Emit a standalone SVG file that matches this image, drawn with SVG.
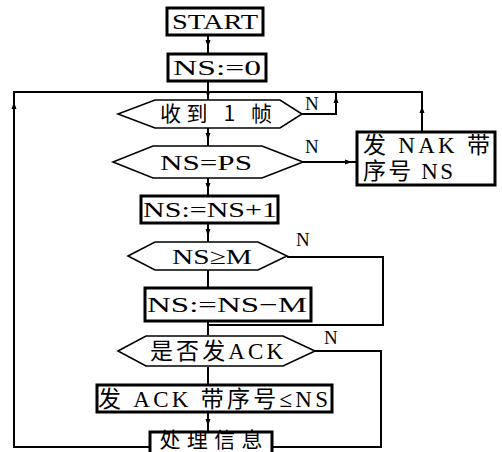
<svg xmlns="http://www.w3.org/2000/svg" width="502" height="452" viewBox="0 0 502 452">
<style>
.box{fill:#fff;stroke:#000;stroke-width:3}
.dec{fill:#fff;stroke:#000;stroke-width:1.6}
.ln{fill:none;stroke:#000;stroke-width:2}
.t{font-family:"Liberation Serif","Noto Sans CJK SC",serif;font-size:22px;fill:#000;text-anchor:middle}
.c{font-family:"Noto Sans CJK SC","Liberation Serif",serif;font-size:21px;fill:#000;text-anchor:middle}
.tl{font-family:"Liberation Serif","Noto Sans CJK SC",serif;font-size:23px;fill:#000}
.n{font-family:"Liberation Serif",serif;font-size:19px;fill:#000}
</style>
<defs>
<path id="ah" d="M-2.5,-5 L2.5,-5 L0,2 Z" fill="#000"/>
</defs>
<g id="connectors">
<path class="ln" d="M208,35 V54 M208,81 V100 M208,128 V146 M208,178 V196 M208,223 V242 M208,270 V288 M208,321 V335 M208,367 V385 M208,412 V432"/>
<path class="ln" d="M302,114 H336 V92" />
<path class="ln" stroke-width="3" d="M422,132 V92 H14 V447 H150"/>
<path class="ln" d="M303,162 H357"/>
<path class="ln" d="M287,257 H383 V325 H208"/>
<path class="ln" d="M315,351 H381 V447 H272"/>
<use href="#ah" transform="translate(208,45)"/>
<use href="#ah" transform="translate(208,96)"/>
<use href="#ah" transform="translate(208,138)"/>
<use href="#ah" transform="translate(208,188)"/>
<use href="#ah" transform="translate(208,234)"/>
<use href="#ah" transform="translate(208,424)"/>
<use href="#ah" transform="translate(336,98) rotate(180)"/>
<use href="#ah" transform="translate(422,108) rotate(180)"/>
<use href="#ah" transform="translate(14,104) rotate(180)"/>
<use href="#ah" transform="translate(350,162) rotate(-90)"/>
<text class="n" x="305" y="110">N</text>
<text class="n" x="305" y="153">N</text>
<text class="n" x="296" y="246">N</text>
<text class="n" x="324" y="344">N</text>
</g>
<g id="start">
<rect class="box" x="167" y="8" width="96" height="27"/>
<text class="t" x="215" y="29" textLength="86" lengthAdjust="spacingAndGlyphs">START</text>
</g>
<g id="init">
<rect class="box" x="168" y="54" width="98" height="27"/>
<text class="t" x="217" y="75" textLength="88" lengthAdjust="spacingAndGlyphs">NS:=0</text>
</g>
<g id="recv">
<polygon class="dec" points="118,114 155,100 280,100 302,114 280,128 155,128"/>
<text class="c" x="216" y="121" textLength="112" lengthAdjust="spacing">收到 1 帧</text>
</g>
<g id="nsps">
<polygon class="dec" points="113,162 153,146 262,146 303,162 262,178 153,178"/>
<text class="t" x="206" y="170" textLength="92" lengthAdjust="spacingAndGlyphs">NS=PS</text>
</g>
<g id="nak">
<rect class="box" x="357" y="132" width="138" height="53"/>
<text class="tl" x="363" y="153" textLength="127" lengthAdjust="spacing">发 NAK 带</text>
<text class="tl" x="363" y="179" textLength="90" lengthAdjust="spacing">序号 NS</text>
</g>
<g id="inc">
<rect class="box" x="141" y="196" width="137" height="27"/>
<text class="t" x="210" y="217" textLength="134" lengthAdjust="spacingAndGlyphs">NS:=NS+1</text>
</g>
<g id="cmp">
<polygon class="dec" points="128,256 155,242 258,242 287,256 258,270 155,270"/>
<text class="t" x="212" y="264" textLength="80" lengthAdjust="spacingAndGlyphs">NS≥M</text>
</g>
<g id="sub">
<rect class="box" x="145" y="288" width="166" height="33"/>
<text class="t" x="227" y="312" textLength="160" lengthAdjust="spacingAndGlyphs">NS:=NS−M</text>
</g>
<g id="ackq">
<polygon class="dec" points="118,351 146,336 283,336 315,351 283,366 146,366"/>
<text class="tl" x="150" y="359" font-size="22" textLength="133" lengthAdjust="spacing">是否发ACK</text>
</g>
<g id="ack">
<rect class="box" x="97" y="385" width="235" height="27"/>
<text class="tl" x="98" y="407" textLength="230" lengthAdjust="spacing">发 ACK 带序号≤NS</text>
</g>
<g id="proc">
<rect class="box" x="150" y="432" width="122" height="30"/>
<text class="c" x="211" y="447" font-size="16" textLength="103" lengthAdjust="spacing">处理信息</text>
</g>
</svg>
